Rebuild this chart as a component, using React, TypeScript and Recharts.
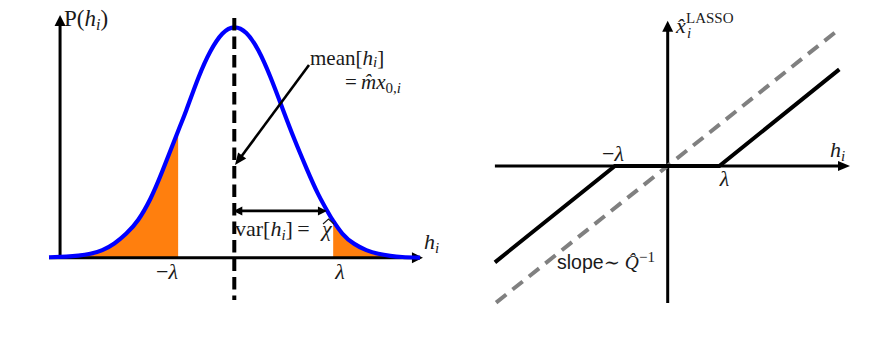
import React from 'react';
import { ComposedChart, Line, Area, XAxis, YAxis, ReferenceLine, ReferenceDot } from 'recharts';

// ---------- Left panel data: P(h_i) bell curve ----------
const hValues = [-3.86, -3.5, -3.25, -3.0, -2.75, -2.5, -2.25, -2.0, -1.75, -1.5, -1.17, -1.0, -0.75, -0.5, -0.25, 0, 0.25, 0.5, 0.75, 1.0, 1.25, 1.5, 1.75, 2.0, 2.06, 2.25, 2.5, 2.75, 3.0, 3.25, 3.5, 3.87];
const pValues = [0.002, 0.005, 0.009, 0.017, 0.033, 0.062, 0.105, 0.165, 0.255, 0.375, 0.55, 0.64, 0.78, 0.895, 0.972, 1.0, 0.975, 0.9, 0.785, 0.65, 0.515, 0.39, 0.275, 0.18, 0.16, 0.105, 0.06, 0.033, 0.017, 0.008, 0.003, 0.0];
const minusLambdaLeft = -1.17;
const lambdaLeft = 2.06;
const varArrowLevel = 0.203;
const varArrowEnd = 1.93;

// ---------- Right panel data: soft threshold and identity ----------
const thrH = [-4.32, -1.32, 1.29, 4.29];
const thrX = [-3.01, 0, 0, 3.02];
const idH = [-4.29, 4.24];
const idX = [-4.27, 4.23];

// ---------- layout (pixels) ----------
const L = { x0: 234.3, sx: 48, y0: 257.7, sy: 230.4, w: 440, h: 349 };
const R = { left: 440, x0: 227.7, sx: 40, y0: 166, sy: 32, w: 432, h: 349 };
const toL = (px: number, py: number) => ({ x: (px - L.x0) / L.sx, y: (L.y0 - py) / L.sy });
const toR = (px: number, py: number) => ({ x: (px - R.left - R.x0) / R.sx, y: (R.y0 - py) / R.sy });

const BLUE = '#0000ff';
const ORANGE = '#ff7f0e';
const GRAY = '#808080';
const TEXT = '#1a1a1a';
const SERIF = '"Liberation Serif", "DejaVu Serif", serif';
const SANS = '"Liberation Sans", "DejaVu Sans", sans-serif';

const gaussData = hValues.map((h, i) => ({
  h,
  p: pValues[i],
  left: h <= minusLambdaLeft ? pValues[i] : null,
  right: h >= lambdaLeft ? pValues[i] : null,
}));
const thrData = thrH.map((h, i) => ({ h, v: thrX[i] }));
const idData = idH.map((h, i) => ({ h, v: idX[i] }));

type ArrowOpts = { width: number; color: string; head: number; half: number; start?: boolean; end?: boolean };
const arrowShape = (o: ArrowOpts) => (props: any) => {
  const { x1, y1, x2, y2 } = props;
  const dx = x2 - x1;
  const dy = y2 - y1;
  const len = Math.hypot(dx, dy) || 1;
  const ux = dx / len;
  const uy = dy / len;
  const head = (tx: number, ty: number, dirx: number, diry: number) => {
    const bx = tx - dirx * o.head;
    const by = ty - diry * o.head;
    const nx = -diry;
    const ny = dirx;
    return `${tx},${ty} ${bx + nx * o.half},${by + ny * o.half} ${bx - nx * o.half},${by - ny * o.half}`;
  };
  const sx = o.start ? x1 + ux * o.head * 0.7 : x1;
  const sy = o.start ? y1 + uy * o.head * 0.7 : y1;
  const ex = o.end ? x2 - ux * o.head * 0.7 : x2;
  const ey = o.end ? y2 - uy * o.head * 0.7 : y2;
  return (
    <g>
      <line x1={sx} y1={sy} x2={ex} y2={ey} stroke={o.color} strokeWidth={o.width} />
      {o.end && <polygon points={head(x2, y2, ux, uy)} fill={o.color} />}
      {o.start && <polygon points={head(x1, y1, -ux, -uy)} fill={o.color} />}
    </g>
  );
};

const txt = (render: (x: number, y: number) => React.ReactElement) => (p: any) => render(p.cx, p.cy);

export default function App() {
  const pLab = toL(64, 26);
  const meanLab = toL(310, 65);
  const varLab = toL(235, 236);
  const mlLab = toL(167, 279);
  const lLab = toL(340, 279);
  const hLab = toL(424, 249);

  const rml = toR(613, 161);
  const rl = toR(724.5, 186);
  const rh = toR(830, 157);
  const rx = toR(676, 33);
  const rsl = toR(557, 269);

  return (
    <div style={{ position: 'absolute', left: 0, top: 0, width: 872, height: 349, background: '#fff' }}>
      <div style={{ position: 'absolute', left: 0, top: 0 }}>
        <ComposedChart width={L.w} height={L.h} margin={{ top: 0, right: 0, bottom: 0, left: 0 }}>
          <XAxis type="number" dataKey="h" domain={[-L.x0 / L.sx, (L.w - L.x0) / L.sx]} allowDataOverflow hide height={0} />
          <YAxis type="number" domain={[(L.y0 - L.h) / L.sy, L.y0 / L.sy]} allowDataOverflow hide width={0} />
          <Area data={gaussData} dataKey="left" type="natural" fill={ORANGE} fillOpacity={1} stroke="none" baseValue={0} isAnimationActive={false} dot={false} activeDot={false} />
          <Area data={gaussData} dataKey="right" type="natural" fill={ORANGE} fillOpacity={1} stroke="none" baseValue={0} isAnimationActive={false} dot={false} activeDot={false} />
          <ReferenceLine segment={[{ x: -3.86, y: 0 }, { x: 3.93, y: 0 }]} shape={arrowShape({ width: 3, color: '#000', head: 11, half: 5.5, end: true })} />
          <ReferenceLine segment={[{ x: -3.63, y: 0 }, { x: -3.63, y: 1.053 }]} shape={arrowShape({ width: 3, color: '#000', head: 11, half: 5.5, end: true })} />
          <Line data={gaussData} dataKey="p" type="natural" stroke={BLUE} strokeWidth={4.2} dot={false} activeDot={false} isAnimationActive={false} />
          <ReferenceLine segment={[{ x: 0, y: 1.04 }, { x: 0, y: -0.184 }]} stroke="#000" strokeWidth={4} strokeDasharray="12.5 6" />
          <ReferenceLine segment={[{ x: 1.556, y: 0.836 }, { x: 0.015, y: 0.402 }]} shape={arrowShape({ width: 2.6, color: '#000', head: 12, half: 5, end: true })} />
          <ReferenceLine segment={[{ x: -0.02, y: varArrowLevel }, { x: varArrowEnd, y: varArrowLevel }]} shape={arrowShape({ width: 2.8, color: '#000', head: 9, half: 4.5, start: true, end: true })} />
          <ReferenceDot x={pLab.x} y={pLab.y} r={0} ifOverflow="visible" shape={txt((x, y) => (
            <text x={x} y={y} fontFamily={SERIF} fontSize={23} fill={TEXT}>P(<tspan fontStyle="italic">h</tspan><tspan fontStyle="italic" fontSize={16} dy={4}>i</tspan><tspan dy={-4}>)</tspan></text>
          ))} />
          <ReferenceDot x={meanLab.x} y={meanLab.y} r={0} ifOverflow="visible" shape={txt((x, y) => (
            <text x={x} y={y} fontFamily={SERIF} fontSize={21} fill={TEXT}>
              mean[<tspan fontStyle="italic">h</tspan><tspan fontStyle="italic" fontSize={15} dy={2}>i</tspan><tspan dy={-2}>]</tspan>
              <tspan x={x + 35} dy={24}>{'=\u2009'}</tspan><tspan fontStyle="italic">{'m\u0302x'}</tspan><tspan fontSize={15} dy={4}>0,<tspan fontStyle="italic">i</tspan></tspan>
            </text>
          ))} />
          <ReferenceDot x={varLab.x} y={varLab.y} r={0} ifOverflow="visible" shape={txt((x, y) => (
            <g>
              <text x={x} y={y} fontFamily={SERIF} fontSize={22} fill={TEXT}>
                var[<tspan fontStyle="italic">h</tspan><tspan fontStyle="italic" fontSize={15} dy={4}>i</tspan><tspan dy={-4}>]{'\u2009=\u2009'}</tspan>
                <tspan x={x + 87} fontStyle="italic">{'\u03c7'}</tspan>
              </text>
              <path d={`M${x + 88},${y - 12} L${x + 93.5},${y - 17} L${x + 99},${y - 12}`} fill="none" stroke={TEXT} strokeWidth={1.1} />
            </g>
          ))} />
          <ReferenceDot x={mlLab.x} y={mlLab.y} r={0} ifOverflow="visible" shape={txt((x, y) => (
            <text x={x} y={y} fontFamily={SERIF} fontSize={22} fill={TEXT} textAnchor="middle">{'\u2212'}<tspan fontStyle="italic">{'\u03bb'}</tspan></text>
          ))} />
          <ReferenceDot x={lLab.x} y={lLab.y} r={0} ifOverflow="visible" shape={txt((x, y) => (
            <text x={x} y={y} fontFamily={SERIF} fontSize={22} fill={TEXT} textAnchor="middle" fontStyle="italic">{'\u03bb'}</text>
          ))} />
          <ReferenceDot x={hLab.x} y={hLab.y} r={0} ifOverflow="visible" shape={txt((x, y) => (
            <text x={x} y={y} fontFamily={SERIF} fontSize={22} fill={TEXT} fontStyle="italic">h<tspan fontSize={15} dy={4}>i</tspan></text>
          ))} />
        </ComposedChart>
      </div>
      <div style={{ position: 'absolute', left: R.left, top: 0 }}>
        <ComposedChart width={R.w} height={R.h} margin={{ top: 0, right: 0, bottom: 0, left: 0 }}>
          <XAxis type="number" dataKey="h" domain={[-R.x0 / R.sx, (R.w - R.x0) / R.sx]} allowDataOverflow hide height={0} />
          <YAxis type="number" domain={[(R.y0 - R.h) / R.sy, R.y0 / R.sy]} allowDataOverflow hide width={0} />
          <ReferenceLine segment={[{ x: -4.32, y: 0 }, { x: 4.5575, y: 0 }]} shape={arrowShape({ width: 3, color: '#000', head: 12, half: 5, end: true })} />
          <ReferenceLine segment={[{ x: 0, y: -4.28 }, { x: 0, y: 4.54 }]} shape={arrowShape({ width: 3, color: '#000', head: 11, half: 5.5, end: true })} />
          <Line data={idData} dataKey="v" type="linear" stroke={GRAY} strokeWidth={4} strokeDasharray="13 8" dot={false} activeDot={false} isAnimationActive={false} />
          <Line data={thrData} dataKey="v" type="linear" stroke="#000" strokeWidth={4} dot={false} activeDot={false} isAnimationActive={false} />
          <ReferenceDot x={rml.x} y={rml.y} r={0} ifOverflow="visible" shape={txt((x, y) => (
            <text x={x} y={y} fontFamily={SERIF} fontSize={22} fill={TEXT} textAnchor="middle">{'\u2212'}<tspan fontStyle="italic">{'\u03bb'}</tspan></text>
          ))} />
          <ReferenceDot x={rl.x} y={rl.y} r={0} ifOverflow="visible" shape={txt((x, y) => (
            <text x={x} y={y} fontFamily={SERIF} fontSize={22} fill={TEXT} textAnchor="middle" fontStyle="italic">{'\u03bb'}</text>
          ))} />
          <ReferenceDot x={rh.x} y={rh.y} r={0} ifOverflow="visible" shape={txt((x, y) => (
            <text x={x} y={y} fontFamily={SERIF} fontSize={22} fill={TEXT} fontStyle="italic">h<tspan fontSize={15} dy={4}>i</tspan></text>
          ))} />
          <ReferenceDot x={rx.x} y={rx.y} r={0} ifOverflow="visible" shape={txt((x, y) => (
            <text x={x} y={y} fontFamily={SERIF} fontSize={22} fill={TEXT} fontStyle="italic">
              {'x\u0302'}
              <tspan x={x + 11} dy={5} fontSize={15}>i</tspan>
              <tspan x={x + 10} dy={-15} fontSize={15} fontStyle="normal">LASSO</tspan>
            </text>
          ))} />
          <ReferenceDot x={rsl.x} y={rsl.y} r={0} ifOverflow="visible" shape={txt((x, y) => (
            <text x={x} y={y} fontFamily={SANS} fontSize={19.5} fill={TEXT}>slope<tspan fontFamily={SERIF}>{'\u223c '}</tspan><tspan fontFamily={SERIF} fontStyle="italic">{'Q\u0302'}</tspan><tspan fontFamily={SERIF} fontSize={15} dy={-7}>{'\u22121'}</tspan></text>
          ))} />
        </ComposedChart>
      </div>
    </div>
  );
}
